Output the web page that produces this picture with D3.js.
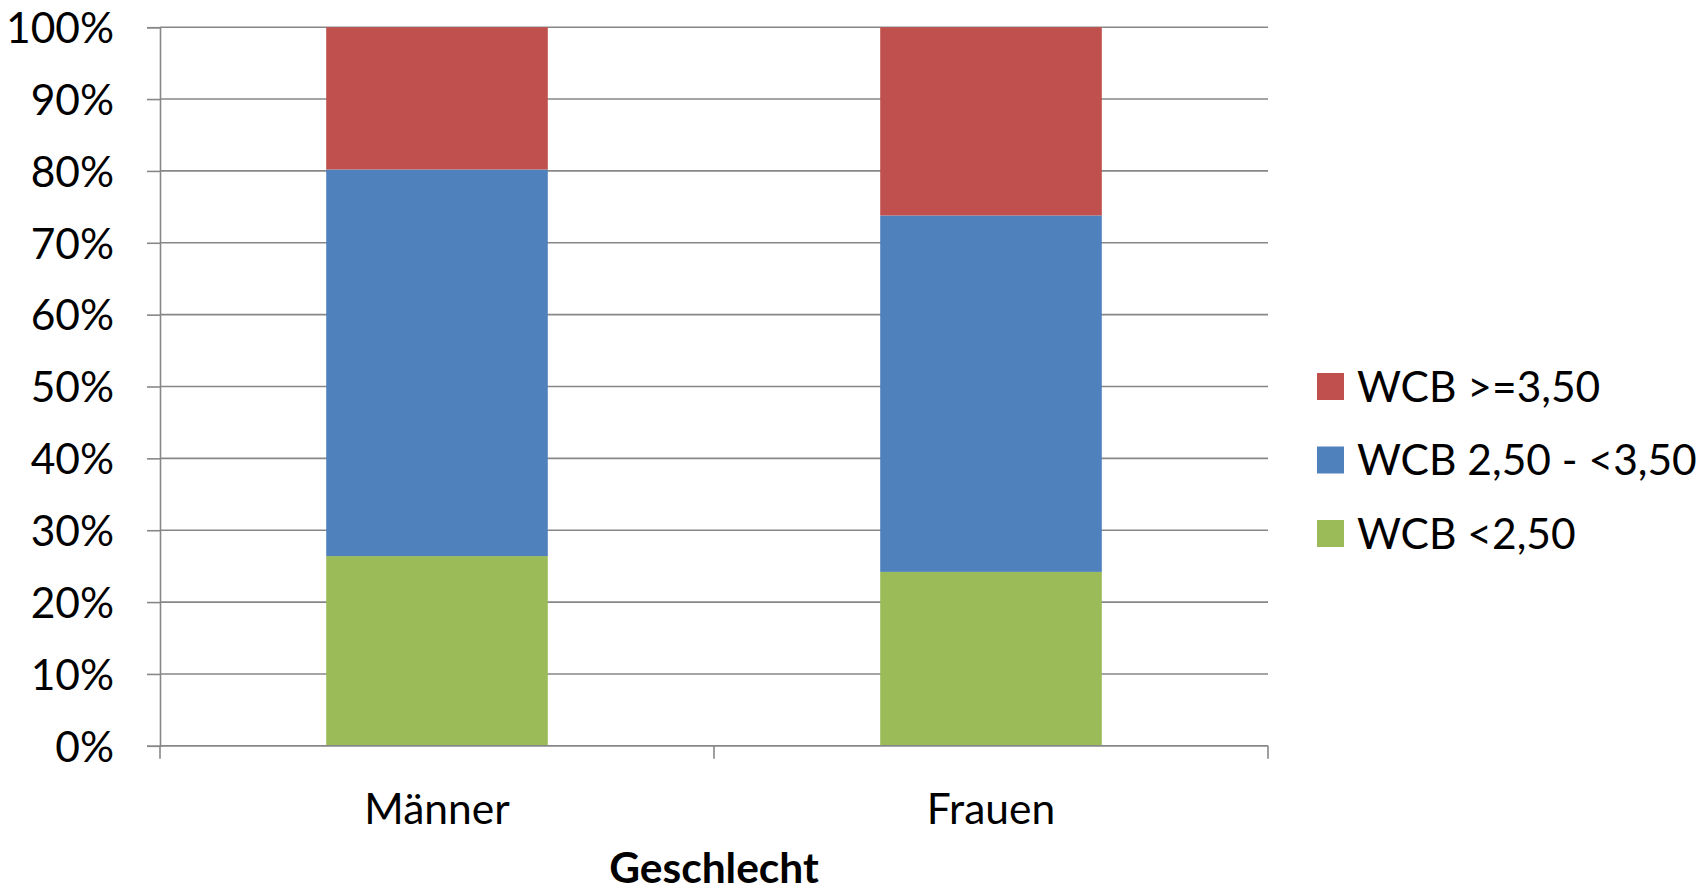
<!DOCTYPE html>
<html>
<head>
<meta charset="utf-8">
<script src="https://cdn.jsdelivr.net/npm/d3@7"></script>
<style>
  html, body { margin: 0; padding: 0; background: #fff; }
  svg { display: block; font-family: Lato, "Open Sans", sans-serif; }
</style>
</head>
<body>
<svg id="chart" width="1707" height="892"></svg>
<script>
// Gender groups and share (%) per WCB class, stacked bottom to top
const categories = ["Männer", "Frauen"];
const seriesNames = ["WCB <2,50", "WCB 2,50 - <3,50", "WCB >=3,50"];
const seriesColors = ["#9BBB59", "#4F81BD", "#C0504D"];
const low = [26.4, 24.2];      // WCB <2,50
const mid = [53.8, 49.6];      // WCB 2,50 - <3,50
const high = [19.8, 26.2];     // WCB >=3,50
const yTicks = [0, 10, 20, 30, 40, 50, 60, 70, 80, 90, 100];
const xTitle = "Geschlecht";

const rows = categories.map((c, i) => ({
  cat: c,
  [seriesNames[0]]: low[i],
  [seriesNames[1]]: mid[i],
  [seriesNames[2]]: high[i]
}));

const svg = d3.select("#chart");
const plot = { left: 160, right: 1268, top: 27.2, bottom: 745.8 };
const gridColor = "#878787";

const x = d3.scaleBand()
  .domain(categories)
  .range([plot.left, plot.right])
  .paddingInner(0.6)
  .paddingOuter(0.3);

const y = d3.scaleLinear().domain([0, 100]).range([plot.bottom, plot.top]);

// horizontal gridlines
svg.append("g")
  .selectAll("line")
  .data(yTicks)
  .join("line")
  .attr("x1", plot.left)
  .attr("x2", plot.right)
  .attr("y1", d => y(d))
  .attr("y2", d => y(d))
  .attr("stroke", gridColor)
  .attr("stroke-width", 1.6);

// stacked bars
const stacked = d3.stack().keys(seriesNames)(rows);
svg.append("g")
  .selectAll("g")
  .data(stacked)
  .join("g")
  .attr("fill", (d, i) => seriesColors[i])
  .selectAll("rect")
  .data(d => d)
  .join("rect")
  .attr("x", d => x(d.data.cat))
  .attr("width", x.bandwidth())
  .attr("y", d => y(d[1]))
  .attr("height", d => y(d[0]) - y(d[1]));

// y axis
const yAxis = d3.axisLeft(y)
  .tickValues(yTicks)
  .tickFormat(d => d + "%")
  .tickSize(13)
  .tickPadding(33);
const gy = svg.append("g")
  .attr("transform", `translate(${plot.left},0)`)
  .call(yAxis);
gy.select(".domain").attr("stroke", gridColor).attr("stroke-width", 1.6);
gy.selectAll(".tick line").attr("stroke", gridColor).attr("stroke-width", 1.6);
gy.selectAll(".tick text")
  .attr("fill", "#000")
  .attr("font-size", 42.5)
  .attr("font-family", "Lato, sans-serif")
  .attr("dy", "0.36em");

// x axis baseline with category separators
const gx = svg.append("g");
gx.append("line")
  .attr("x1", plot.left).attr("x2", plot.right)
  .attr("y1", plot.bottom).attr("y2", plot.bottom)
  .attr("stroke", gridColor).attr("stroke-width", 1.6);
const edges = [plot.left].concat(categories.map(c => x(c) + x.bandwidth() / 2 + x.step() / 2));
gx.selectAll("line.sep")
  .data(edges)
  .join("line")
  .attr("class", "sep")
  .attr("x1", d => d).attr("x2", d => d)
  .attr("y1", plot.bottom).attr("y2", plot.bottom + 13)
  .attr("stroke", gridColor).attr("stroke-width", 1.6);
gx.selectAll("text")
  .data(categories)
  .join("text")
  .attr("x", d => x(d) + x.bandwidth() / 2)
  .attr("y", 824)
  .attr("text-anchor", "middle")
  .attr("font-size", 42.5)
  .attr("fill", "#000")
  .text(d => d);

// x axis title
svg.append("text")
  .attr("x", (plot.left + plot.right) / 2)
  .attr("y", 883)
  .attr("text-anchor", "middle")
  .attr("font-size", 42.5)
  .attr("font-weight", "bold")
  .attr("fill", "#000")
  .text(xTitle);

// legend, top entry is the top segment
const legendItems = seriesNames.map((n, i) => ({ name: n, color: seriesColors[i] })).reverse();
const lg = svg.append("g")
  .selectAll("g")
  .data(legendItems)
  .join("g")
  .attr("transform", (d, i) => `translate(1317, ${386.5 + i * 73.5})`);
lg.append("rect")
  .attr("x", 0).attr("y", -13.5)
  .attr("width", 27).attr("height", 27)
  .attr("fill", d => d.color);
lg.append("text")
  .attr("x", 40)
  .attr("dy", "0.36em")
  .attr("font-size", 42.5)
  .attr("fill", "#000")
  .text(d => d.name);
</script>
</body>
</html>
